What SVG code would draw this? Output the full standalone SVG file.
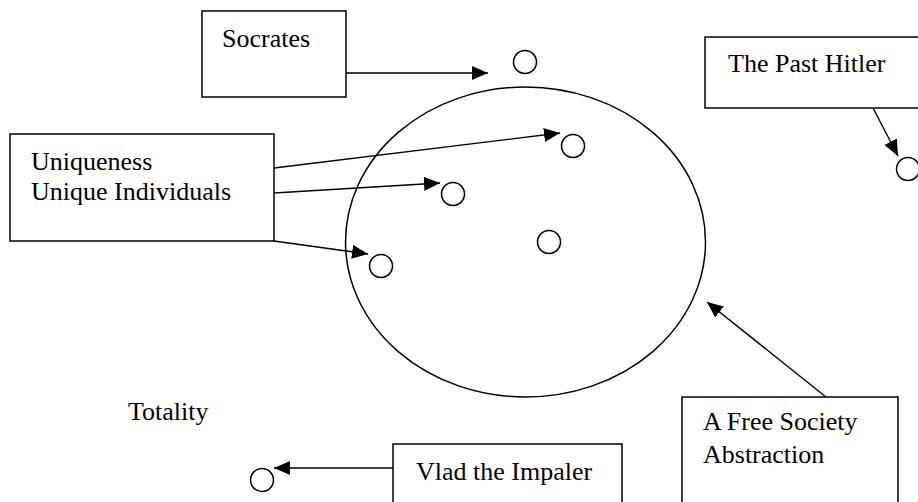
<svg xmlns="http://www.w3.org/2000/svg" width="918" height="502" viewBox="0 0 918 502">
  <style>
    .box { fill: #fff; stroke: #000; stroke-width: 1.5; }
    .dot { fill: none; stroke: #000; stroke-width: 1.5; }
    .lbl { font-family: "Liberation Serif", "Times New Roman", serif; font-size: 26px; fill: #000; }
    .link { fill: none; stroke: #000; stroke-width: 1.4; marker-end: url(#arrow); }
  </style>
  <defs>
    <marker id="arrow" markerUnits="userSpaceOnUse" markerWidth="16" markerHeight="14" refX="16" refY="7" orient="auto">
      <path d="M0,0 L16,7 L0,14 Z" fill="#000"/>
    </marker>
  </defs>
  <rect width="918" height="502" fill="#fff"/>

  <!-- the society -->
  <g id="society">
    <ellipse cx="525.5" cy="242" rx="180" ry="155" class="dot"/>
  </g>

  <!-- individuals -->
  <g id="dots">
    <circle cx="525" cy="62" r="11.5" class="dot"/>
    <circle cx="573" cy="146" r="11.5" class="dot"/>
    <circle cx="453" cy="194" r="11.5" class="dot"/>
    <circle cx="381" cy="266" r="11.5" class="dot"/>
    <circle cx="549" cy="242" r="11.5" class="dot"/>
    <circle cx="908" cy="169" r="11.5" class="dot"/>
    <circle cx="262" cy="480" r="11.5" class="dot"/>
  </g>

  <g id="connectors">
    <line x1="346" y1="73" x2="488" y2="73" class="link"/>
    <line x1="274" y1="168" x2="560" y2="133" class="link"/>
    <line x1="274" y1="193" x2="440" y2="183" class="link"/>
    <line x1="274" y1="241" x2="368" y2="254" class="link"/>
    <line x1="873" y1="108" x2="898" y2="156" class="link"/>
    <line x1="826" y1="397" x2="707" y2="302" class="link"/>
    <line x1="393" y1="468" x2="274" y2="468" class="link"/>
  </g>

  <g id="socrates">
    <rect x="202" y="11" width="144" height="86" class="box"/>
    <text x="222" y="47" class="lbl">Socrates</text>
  </g>

  <g id="past-hitler">
    <rect x="705" y="37" width="230" height="71" class="box"/>
    <text x="728" y="72" class="lbl">The Past Hitler</text>
  </g>

  <g id="uniqueness">
    <rect x="10" y="134" width="264" height="107" class="box"/>
    <text x="31" y="170" class="lbl">Uniqueness</text>
    <text x="31" y="200" class="lbl">Unique Individuals</text>
  </g>

  <g id="totality">
    <text x="128" y="420" class="lbl">Totality</text>
  </g>

  <g id="free-society">
    <rect x="682" y="397" width="216" height="120" class="box"/>
    <text x="703" y="430" class="lbl">A Free Society</text>
    <text x="703" y="463" class="lbl">Abstraction</text>
  </g>

  <g id="vlad">
    <rect x="393" y="444" width="229" height="80" class="box"/>
    <text x="416" y="480" class="lbl">Vlad the Impaler</text>
  </g>
</svg>
